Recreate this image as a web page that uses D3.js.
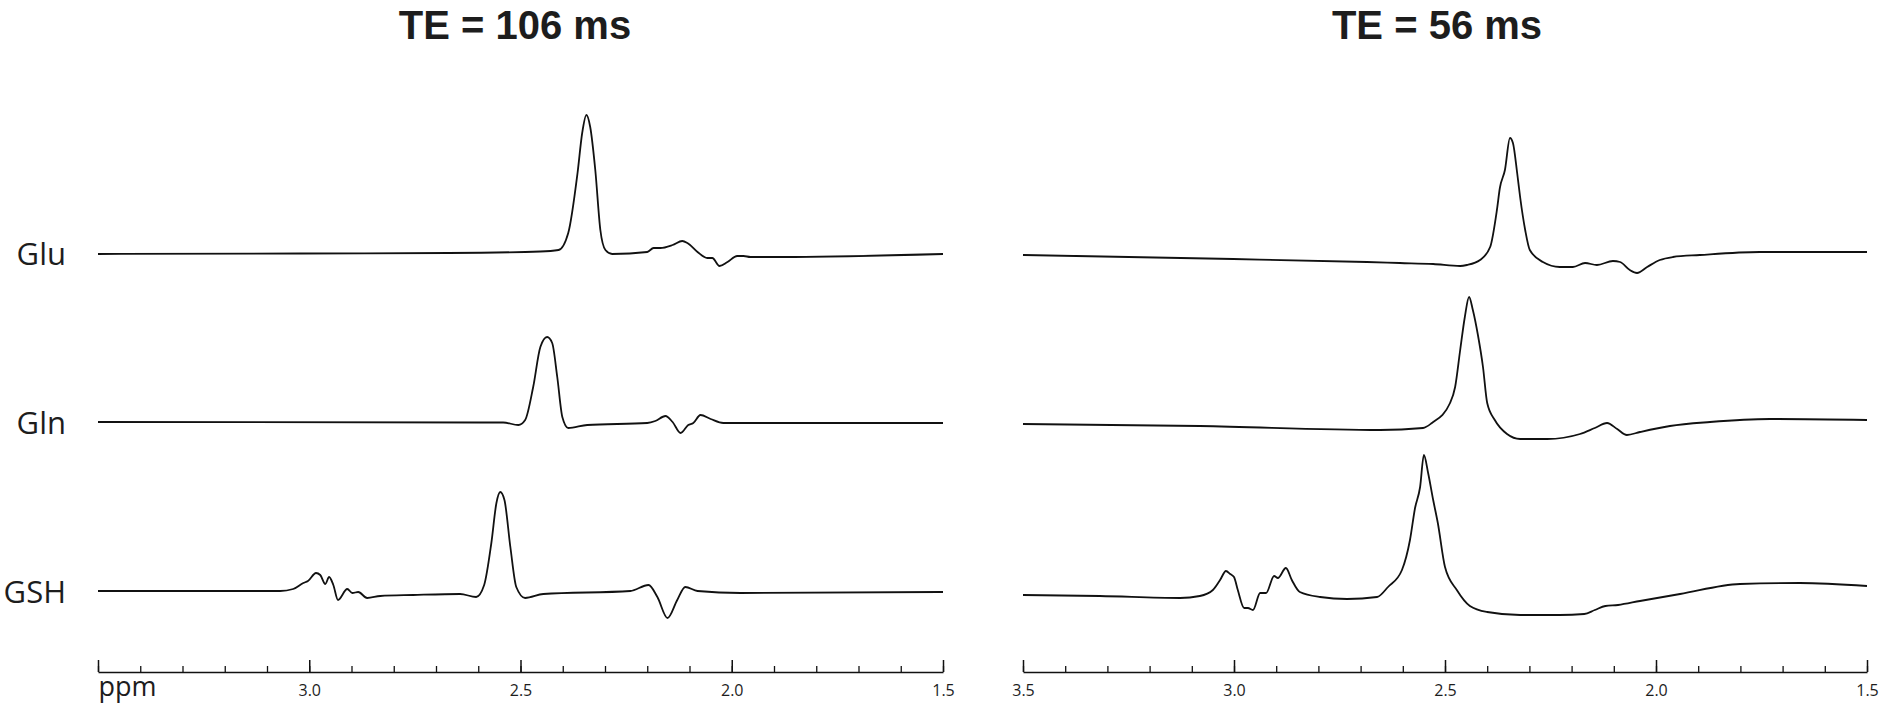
<!DOCTYPE html>
<html><head><meta charset="utf-8">
<script src="https://cdn.jsdelivr.net/npm/d3@7"></script>
<style>
body{margin:0;background:#fff}
svg{display:block}
</style>
</head><body>
<svg id="c" width="1880" height="705"></svg>
<script>
// ---------- data ----------
const metabolites = ["Glu", "Gln", "GSH"];
const panelTitles = ["TE = 106 ms", "TE = 56 ms"];
const ppmDomain = [3.5, 1.5];
const majorTicks = [3.5, 3.0, 2.5, 2.0, 1.5];
const leftTickLabels = ["ppm", "3.0", "2.5", "2.0", "1.5"];
const rightTickLabels = ["3.5", "3.0", "2.5", "2.0", "1.5"];

// [ppm, intensity (a.u.)]
const te106Glu = [[3.50,-1],[3.02,-0.5],[2.67,0],[2.453,1.5],[2.41,3],[2.387,20],[2.365,80],[2.354,120],[2.344,138],[2.335,126],[2.323,83],[2.311,23],[2.299,3],[2.283,-1],[2.20,1],[2.185,5],[2.169,5],[2.14,8],[2.117,12],[2.105,10],[2.081,1],[2.058,-5],[2.046,-5],[2.029,-13],[2.01,-9],[1.987,-3],[1.972,-3],[1.956,-4],[1.885,-4],[1.50,-1]];
const te106Gln = [[3.50,0],[2.595,-0.5],[2.541,-0.5],[2.505,-3],[2.489,2],[2.47,35],[2.453,75],[2.437,85],[2.425,79],[2.413,45],[2.401,5],[2.387,-6],[2.342,-3],[2.20,-1],[2.181,1],[2.157,6],[2.14,0],[2.121,-11],[2.103,-3],[2.091,-1],[2.074,7],[2.05,3],[2.02,-1],[1.885,-1],[1.50,-1]];
const te106GSH = [[3.50,0],[3.069,0],[3.038,2],[3.014,8],[3.003,10],[2.984,18],[2.974,16],[2.962,7],[2.953,14],[2.943,6],[2.932,-9],[2.91,2],[2.898,-2],[2.884,-1],[2.863,-7],[2.832,-5],[2.754,-4],[2.643,-3],[2.605,-6],[2.586,6],[2.569,48],[2.557,88],[2.548,99],[2.538,91],[2.524,44],[2.51,4],[2.489,-7],[2.446,-3],[2.24,0],[2.197,6],[2.176,-6],[2.152,-27],[2.129,-9],[2.11,4],[2.081,0],[1.979,-2],[1.50,-1]];

const te56Glu = [[3.50,0],[3.002,-4],[2.685,-7],[2.607,-8],[2.528,-9],[2.464,-11],[2.448,-10],[2.417,-5],[2.393,8],[2.377,45],[2.37,67],[2.358,85],[2.346,117],[2.339,112],[2.329,82],[2.322,58],[2.31,25],[2.299,5],[2.268,-7],[2.228,-12],[2.197,-12],[2.168,-8],[2.14,-10],[2.102,-6],[2.085,-7],[2.062,-15],[2.045,-18],[2.021,-12],[1.991,-5],[1.96,-2],[1.896,0],[1.754,3],[1.50,3]];
const te56Gln = [[3.50,0],[3.081,-2],[2.654,-6],[2.552,-4],[2.531,1],[2.488,21],[2.476,37],[2.464,74],[2.453,107],[2.443,127],[2.434,114],[2.422,89],[2.41,57],[2.40,21],[2.382,4],[2.353,-10],[2.322,-15],[2.258,-15],[2.18,-10],[2.145,-4],[2.116,1],[2.092,-5],[2.069,-11],[2.038,-8],[1.967,-2],[1.872,2],[1.73,5],[1.50,4]];
const te56GSH = [[3.50,0],[3.318,-1],[3.128,-3],[3.081,-1],[3.05,5],[3.033,15],[3.019,24],[3.009,21],[3.0,18],[2.991,5],[2.976,-13],[2.967,-13],[2.955,-15],[2.938,2],[2.924,2],[2.905,19],[2.896,17],[2.877,27],[2.863,15],[2.844,3],[2.796,-2],[2.732,-4],[2.661,-2],[2.635,8],[2.602,25],[2.583,55],[2.571,87],[2.559,108],[2.55,140],[2.54,122],[2.528,95],[2.517,72],[2.50,28],[2.472,5],[2.441,-11],[2.40,-17],[2.322,-20],[2.228,-20],[2.17,-19],[2.145,-15],[2.12,-11],[2.09,-10],[2.038,-6],[1.943,1],[1.801,11],[1.659,12],[1.50,9]];

// ---------- layout ----------
const FONT = '"Open Sans", "DejaVu Sans", sans-serif';
const TITLE_FONT = '"Liberation Sans", Arial, sans-serif';
const INK = "#111";
const svg = d3.select("#c");
const axisY = 672;
const panels = [
  {title: panelTitles[0], range: [98, 943], series: [te106Glu, te106Gln, te106GSH], baselines: [253, 422, 591], tickLabels: leftTickLabels, titleX: 515, rowLabels: true},
  {title: panelTitles[1], range: [1023, 1867], series: [te56Glu, te56Gln, te56GSH], baselines: [255, 424, 595], tickLabels: rightTickLabels, titleX: 1437, rowLabels: false}
];
const amp = d3.scaleLinear().domain([0, 100]).range([0, -100]);

panels.forEach(p => {
  const x = d3.scaleLinear().domain(ppmDomain).range(p.range);
  const g = svg.append("g");

  g.append("text")
    .attr("x", p.titleX).attr("y", 39)
    .attr("text-anchor", "middle")
    .style("font-family", TITLE_FONT).style("font-size", "40px").style("font-weight", 700)
    .attr("fill", "#1d1d1d")
    .text(p.title);

  p.series.forEach((s, i) => {
    const line = d3.line()
      .x(d => x(d[0]))
      .y(d => p.baselines[i] + amp(d[1]))
      .curve(d3.curveMonotoneX);
    g.append("path")
      .attr("d", line(s))
      .attr("fill", "none")
      .attr("stroke", INK)
      .attr("stroke-width", 1.8)
      .attr("stroke-linejoin", "round");
    if (p.rowLabels) {
      g.append("text")
        .attr("x", 66).attr("y", p.baselines[i] + 12)
        .attr("text-anchor", "end")
        .style("font-family", FONT).style("font-size", "31px")
        .attr("fill", "#1d1d1d")
        .text(metabolites[i]);
    }
  });

  // minor ticks
  const minor = g.append("g").attr("transform", `translate(0,${axisY})`)
    .call(d3.axisTop(x).ticks(20).tickSize(6).tickSizeOuter(0).tickFormat(""));
  minor.select(".domain").remove();
  minor.selectAll("line").attr("stroke", INK).attr("stroke-width", 1.3);

  // major ticks + axis line
  const major = g.append("g").attr("transform", `translate(0,${axisY})`)
    .call(d3.axisTop(x).tickValues(majorTicks).tickSize(12).tickSizeOuter(0).tickFormat(""));
  major.select(".domain").attr("stroke", INK).attr("stroke-width", 1.6);
  major.selectAll("line").attr("stroke", INK).attr("stroke-width", 1.5);

  // labels
  const lab = g.append("g").attr("transform", `translate(0,${axisY})`)
    .call(d3.axisBottom(x).tickValues(majorTicks).tickSize(0).tickPadding(13)
      .tickFormat((d, i) => p.tickLabels[i]));
  lab.select(".domain").remove();
  lab.selectAll("text")
    .style("font-family", FONT).style("font-size", "16px")
    .attr("fill", "#1d1d1d");
  lab.selectAll("text").filter(function(){ return this.textContent === "ppm"; })
    .style("font-size", "27px").attr("text-anchor", "start").attr("dy", 0).attr("y", 24);
});
</script>
</body></html>
